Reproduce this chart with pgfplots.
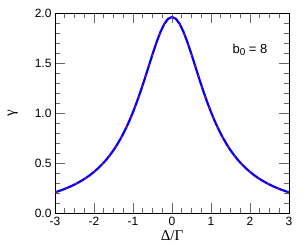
\documentclass[border=0pt]{standalone}
\usepackage{fontspec}
\setmainfont{Liberation Sans}
\newfontfamily\serif{Liberation Serif}
\usepackage{pgfplots}
\pgfplotsset{compat=1.18}
\pgfplotstableread{
x y
-3.0 0.2067
-2.9 0.2196
-2.8 0.2336
-2.7 0.2490
-2.6 0.2659
-2.5 0.2844
-2.4 0.3049
-2.3 0.3274
-2.2 0.3524
-2.1 0.3801
-2.0 0.4109
-1.9 0.4452
-1.8 0.4835
-1.7 0.5263
-1.6 0.5743
-1.5 0.6280
-1.4 0.6883
-1.3 0.7559
-1.2 0.8315
-1.1 0.9157
-1.0 1.0090
-0.9 1.1114
-0.8 1.2225
-0.7 1.3407
-0.6 1.4634
-0.5 1.5863
-0.4 1.7031
-0.3 1.8067
-0.2 1.8888
-0.1 1.9417
0.0 1.9600
0.1 1.9417
0.2 1.8888
0.3 1.8067
0.4 1.7031
0.5 1.5863
0.6 1.4634
0.7 1.3407
0.8 1.2225
0.9 1.1114
1.0 1.0090
1.1 0.9157
1.2 0.8315
1.3 0.7559
1.4 0.6883
1.5 0.6280
1.6 0.5743
1.7 0.5263
1.8 0.4835
1.9 0.4452
2.0 0.4109
2.1 0.3801
2.2 0.3524
2.3 0.3274
2.4 0.3049
2.5 0.2844
2.6 0.2659
2.7 0.2490
2.8 0.2336
2.9 0.2196
3.0 0.2067
}\gammadata
\begin{document}
\begin{tikzpicture}
\begin{axis}[
  scale only axis,
  width=234pt, height=200pt,
  xmin=-3, xmax=3, ymin=0, ymax=2,
  xtick={-3,-2,-1,0,1,2,3},
  xticklabels={-3,-2,-1,0,1,2,3},
  ytick={0,0.5,1,1.5,2},
  yticklabels={0.0,0.5,1.0,1.5,2.0},
  minor xtick={-2.75,-2.5,-2.25,-1.75,-1.5,-1.25,-0.75,-0.5,-0.25,0.25,0.5,0.75,1.25,1.5,1.75,2.25,2.5,2.75},
  minor ytick={0.1,0.2,0.3,0.4,0.6,0.7,0.8,0.9,1.1,1.2,1.3,1.4,1.6,1.7,1.8,1.9},
  tick align=inside,
  major tick length=10pt,
  minor tick length=5pt,
  tick style={black!60, line width=0.6pt},
  axis line style={line width=0.8pt},
  tick label style={font=\fontsize{12}{14}\selectfont},
  xticklabel style={yshift=-1pt},
  xlabel={\serif\fontsize{15}{17}\selectfont Δ/Γ},
  ylabel={\serif\fontsize{15}{17}\selectfont γ},
  xlabel style={at={(axis description cs:0.5,-0.115)}, anchor=center},
  ylabel style={at={(axis description cs:-0.18,0.5)}, anchor=center, rotate=0},
  clip=true,
]
\addplot[blue, line width=2.2pt] table[x=x,y=y] {\gammadata};
\addplot[red, line width=1pt, dash pattern=on 2pt off 9pt] table[x=x,y=y] {\gammadata};
\node[font=\fontsize{13}{15}\selectfont] at (axis cs:2.0,1.63) {b\raisebox{-0.35ex}{\fontsize{10}{12}\selectfont 0} = 8};
\end{axis}
\path ([shift={(-55pt,-32pt)}]current axis.south west) rectangle ([shift={(18pt,13pt)}]current axis.north east);
\end{tikzpicture}
\end{document}
